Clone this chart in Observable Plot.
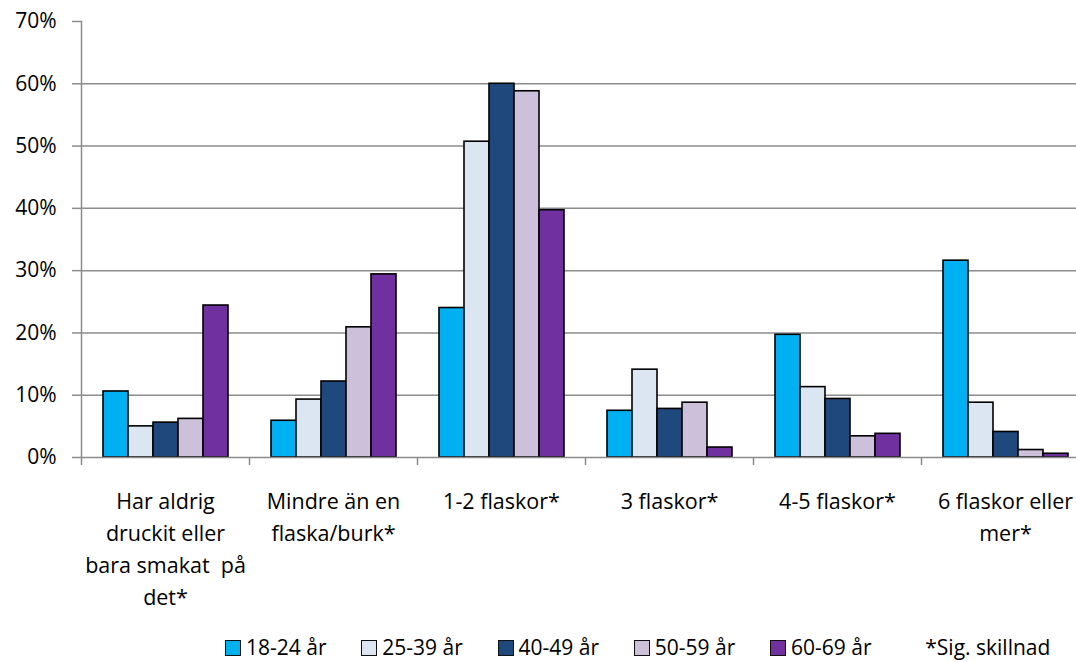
<!DOCTYPE html>
<html><head><meta charset="utf-8">
<script src="https://cdn.jsdelivr.net/npm/d3@7"></script>
<script src="https://cdn.jsdelivr.net/npm/@observablehq/plot@0.6"></script>
<style>
html,body{margin:0;padding:0;background:#fff;overflow:hidden;width:1076px;height:662px;}
body{font-family:"Open Sans","Liberation Sans",Arial,sans-serif;position:relative;}
#chart{position:absolute;left:0;top:0;width:1090px;}
#chart svg{max-width:none !important;width:1090px !important;height:625px !important;}
#legend{position:absolute;left:225px;top:636px;display:flex;font-size:21px;color:#000;line-height:22px;white-space:nowrap;}
.item{display:flex;align-items:center;width:136.25px;}
.sw{width:14px;height:14px;border:1.5px solid #111;margin-right:5px;box-sizing:content-box;position:relative;top:1px;}
.note{margin-left:19px;}
</style></head><body>
<div id="chart"></div><div id="legend"></div>
<script>
const categories = ["Har aldrig", "Mindre än en", "1-2 flaskor", "3 flaskor", "4-5 flaskor", "6 flaskor eller mer"];
const categoryLabels = [
  "Har aldrig\ndruckit eller\nbara smakat  på\ndet*",
  "Mindre än en\nflaska/burk*",
  "1-2 flaskor*",
  "3 flaskor*",
  "4-5 flaskor*",
  "6 flaskor eller\nmer*"
];
const ageGroups = ["18-24 år", "25-39 år", "40-49 år", "50-59 år", "60-69 år"];
const colors = ["#00B0F0", "#DCE6F2", "#1F497D", "#CCC0DA", "#7030A0"];
const v18_24 = [10.6, 5.9, 24.0, 7.5, 19.7, 31.6];
const v25_39 = [5.0, 9.3, 50.7, 14.1, 11.3, 8.8];
const v40_49 = [5.6, 12.2, 60.0, 7.8, 9.4, 4.1];
const v50_59 = [6.2, 20.9, 58.8, 8.8, 3.4, 1.2];
const v60_69 = [24.4, 29.4, 39.7, 1.6, 3.8, 0.6];
const yTicks = [0, 10, 20, 30, 40, 50, 60, 70];
const gridTicks = [10, 20, 30, 40, 50, 60];
const noteText = "*Sig. skillnad";

const series = [v18_24, v25_39, v40_49, v50_59, v60_69];
const data = [];
categories.forEach((c, i) => ageGroups.forEach((a, j) => data.push({category: c, age: a, value: series[j][i]})));

const W = 1090, ML = 81, MR = 1;
const halfBand = (W - ML - MR) / categories.length / 2;
const fontFamily = '"Open Sans", "Liberation Sans", Arial, sans-serif';

const chart = Plot.plot({
  width: W, height: 625,
  marginTop: 21, marginLeft: ML, marginRight: MR, marginBottom: 168,
  style: {fontFamily, fontSize: "21px", background: "white", color: "#000", overflow: "visible"},
  fx: {domain: categories, padding: 0, label: null, axis: null},
  x: {domain: ageGroups, paddingInner: 0, paddingOuter: 0.77, axis: null},
  y: {domain: [0, 70], label: null, axis: null},
  color: {domain: ageGroups, range: colors},
  marks: [
    Plot.gridY(gridTicks, {stroke: "#8c8c8c", strokeOpacity: 1, strokeWidth: 1.5}),
    Plot.barY(data, {fx: "category", x: "age", y: "value", fill: "age", stroke: "#000", strokeWidth: 1.6}),
    Plot.ruleY([0], {stroke: "#8c8c8c", strokeWidth: 1.5}),
    Plot.frame({anchor: "left", facetAnchor: "left", stroke: "#8c8c8c", strokeWidth: 1.5}),
    Plot.axisY(yTicks, {anchor: "left", tickFormat: d => d + "%", tickSize: 9, tickPadding: 16, stroke: "#8c8c8c", strokeWidth: 1.5, fill: "#000", fontSize: 21, label: null}),
    Plot.axisFx({anchor: "bottom", tickSize: 0, tickPadding: 29, lineHeight: 1.48, fontSize: 21.5, fill: "#000", label: null,
      tickFormat: c => categoryLabels[categories.indexOf(c)]}),
    Plot.axisFx({anchor: "bottom", tickSize: 8, dx: -halfBand, stroke: "#8c8c8c", strokeWidth: 1.5, label: null, tickFormat: () => ""})
  ]
});
document.getElementById("chart").appendChild(chart);

const legend = document.getElementById("legend");
ageGroups.forEach((a, j) => {
  const it = document.createElement("div");
  it.className = "item";
  const sw = document.createElement("span");
  sw.className = "sw";
  sw.style.background = colors[j];
  const t = document.createElement("span");
  t.textContent = a;
  it.appendChild(sw); it.appendChild(t);
  legend.appendChild(it);
});
const n = document.createElement("div");
n.className = "note";
n.textContent = noteText;
legend.appendChild(n);
</script>
</body></html>
